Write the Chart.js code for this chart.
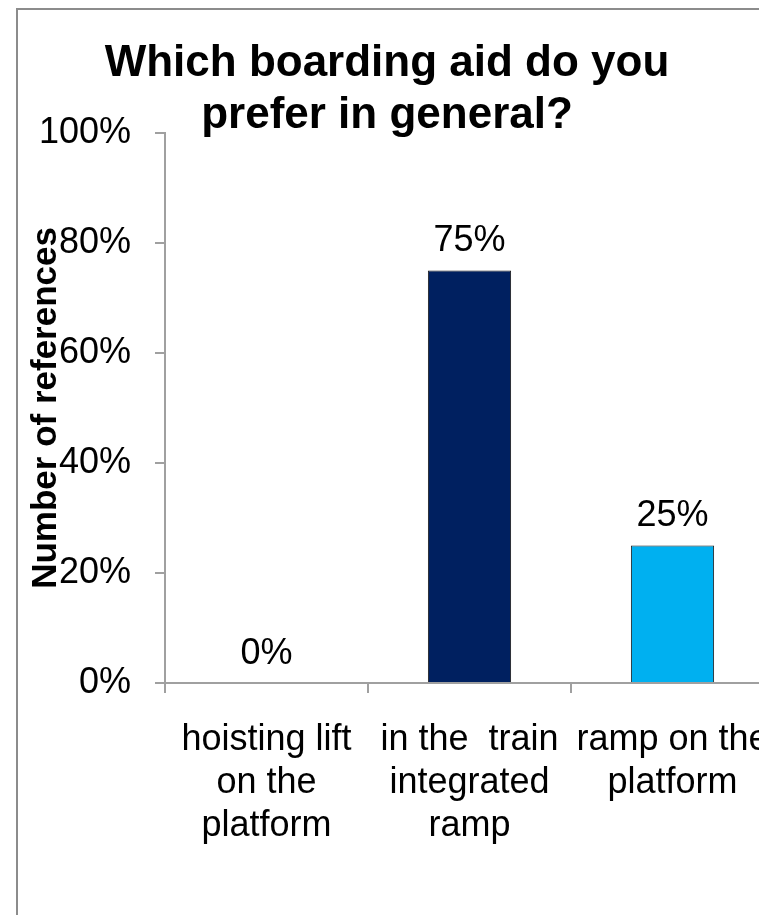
<!DOCTYPE html>
<html>
<head>
<meta charset="utf-8">
<title>Which boarding aid do you prefer in general?</title>
<script src="https://cdn.jsdelivr.net/npm/chart.js@4.4.0/dist/chart.umd.min.js"></script>
<style>
  html, body { margin: 0; padding: 0; background: #fff; overflow: hidden; }
  #wrap { position: relative; width: 759px; height: 915px; overflow: hidden; }
  #frame { position: absolute; left: 16px; top: 8px; width: 900px; height: 1000px;
           border: 2px solid #8c8c8c; pointer-events: none; }
  canvas { position: absolute; left: 0; top: 0; }
</style>
</head>
<body>
<div id="wrap">
  <canvas id="barChart" width="780" height="915"></canvas>
  <div id="frame"></div>
</div>
<script>
// chart data
var categories = [
  ['hoisting lift', 'on the', 'platform'],
  ['in the  train', 'integrated', 'ramp'],
  ['ramp on the', 'platform']
];
var shares = [0, 75, 25];
var barColors = ['#002060', '#002060', '#00b0f0'];
var yTicks = [0, 20, 40, 60, 80, 100];

var fontFamily = '"Liberation Sans", Arial, Helvetica, sans-serif';

// value labels above the bars
var valueLabels = {
  id: 'valueLabels',
  afterDatasetsDraw: function(chart){
    var ctx = chart.ctx;
    var meta = chart.getDatasetMeta(0);
    ctx.save();
    ctx.font = '36px ' + fontFamily;
    ctx.fillStyle = '#000';
    ctx.textAlign = 'center';
    ctx.textBaseline = 'alphabetic';
    meta.data.forEach(function(bar, i){
      ctx.fillText(shares[i] + '%', bar.x, bar.y - 19);
    });
    ctx.restore();
  }
};

// y axis title, sits on top of the tick labels like in the original
var yTitle = {
  id: 'yTitle',
  afterDraw: function(chart){
    var ctx = chart.ctx;
    var area = chart.chartArea;
    ctx.save();
    ctx.translate(46, (area.top + area.bottom) / 2);
    ctx.rotate(-Math.PI / 2);
    ctx.font = 'bold 35px ' + fontFamily;
    ctx.fillStyle = '#000';
    ctx.textAlign = 'center';
    ctx.textBaseline = 'middle';
    ctx.fillText('Number of references', 0, 0);
    ctx.restore();
  }
};

const CHART = document.getElementById('barChart');
let barChart = new Chart(CHART, {
  type: 'bar',
  data: {
    labels: categories,
    datasets: [{
      data: shares,
      backgroundColor: barColors,
      borderColor: '#1a1a1a',
      borderWidth: 1,
      barPercentage: 0.41,
      categoryPercentage: 1
    }]
  },
  options: {
    responsive: false,
    animation: false,
    layout: { padding: { left: 0, right: 6, top: 0, bottom: 0 } },
    plugins: {
      legend: { display: false },
      tooltip: { enabled: false },
      title: {
        display: true,
        text: ['Which boarding aid do you', 'prefer in general?'],
        color: '#000',
        font: { family: fontFamily, size: 44, weight: 'bold', lineHeight: 1.18 },
        padding: { top: 38, bottom: -9 }
      }
    },
    scales: {
      x: {
        afterFit: function(scale){
          scale.height = 232;
          scale.paddingLeft = 0;
          scale.paddingRight = 0;
        },
        grid: { drawOnChartArea: false, drawTicks: true, tickLength: 10, color: '#a0a0a0', lineWidth: 2 },
        border: { display: true, color: '#a0a0a0', width: 2 },
        ticks: {
          color: '#000',
          padding: 25,
          maxRotation: 0,
          autoSkip: false,
          font: { family: fontFamily, size: 36, lineHeight: 1.2 }
        }
      },
      y: {
        min: 0,
        max: 100,
        afterFit: function(scale){ scale.width = 165; },
        afterBuildTicks: function(scale){
          scale.ticks = yTicks.map(function(v){ return { value: v }; });
        },
        grid: { drawOnChartArea: false, drawTicks: true, tickLength: 10, color: '#a0a0a0', lineWidth: 2 },
        border: { display: true, color: '#a0a0a0', width: 2 },
        ticks: {
          color: '#000',
          padding: 24,
          font: { family: fontFamily, size: 36 },
          callback: function(v){ return v + '%'; }
        }
      }
    }
  },
  plugins: [valueLabels, yTitle]
});
</script>
</body>
</html>
